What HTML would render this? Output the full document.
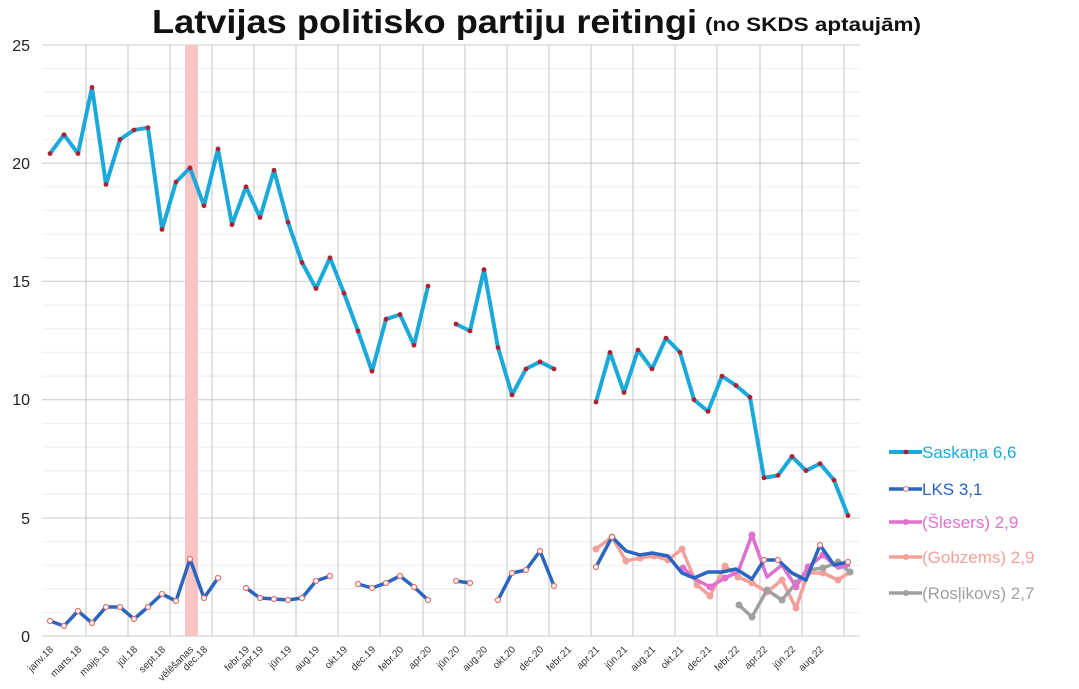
<!DOCTYPE html>
<html><head><meta charset="utf-8"><style>
html,body{margin:0;padding:0;background:#fff;}
svg{display:block;font-family:"Liberation Sans",sans-serif;}
</style></head><body>
<svg width="1079" height="689" viewBox="0 0 1079 689" xmlns="http://www.w3.org/2000/svg">
<rect width="1079" height="689" fill="#fff"/>
<text x="152" y="33" font-size="33" font-weight="bold" fill="#111" textLength="545" lengthAdjust="spacingAndGlyphs">Latvijas politisko partiju reitingi</text>
<text x="705" y="31" font-size="19" font-weight="bold" fill="#111" textLength="216" lengthAdjust="spacingAndGlyphs">(no SKDS aptaujām)</text>
<g stroke="#eeeeee" stroke-width="1">
<line x1="42" x2="860" y1="68.6" y2="68.6"/><line x1="42" x2="860" y1="92.3" y2="92.3"/><line x1="42" x2="860" y1="115.9" y2="115.9"/><line x1="42" x2="860" y1="139.6" y2="139.6"/>
<line x1="42" x2="860" y1="186.9" y2="186.9"/><line x1="42" x2="860" y1="210.5" y2="210.5"/><line x1="42" x2="860" y1="234.2" y2="234.2"/><line x1="42" x2="860" y1="257.8" y2="257.8"/>
<line x1="42" x2="860" y1="305.1" y2="305.1"/><line x1="42" x2="860" y1="328.8" y2="328.8"/><line x1="42" x2="860" y1="352.4" y2="352.4"/><line x1="42" x2="860" y1="376.1" y2="376.1"/>
<line x1="42" x2="860" y1="423.4" y2="423.4"/><line x1="42" x2="860" y1="447" y2="447"/><line x1="42" x2="860" y1="470.7" y2="470.7"/><line x1="42" x2="860" y1="494.3" y2="494.3"/>
<line x1="42" x2="860" y1="541.6" y2="541.6"/><line x1="42" x2="860" y1="565.3" y2="565.3"/><line x1="42" x2="860" y1="588.9" y2="588.9"/><line x1="42" x2="860" y1="612.6" y2="612.6"/>
</g>
<g stroke="#d6d6d6" stroke-width="1.3">
<line x1="42" x2="860" y1="45" y2="45"/><line x1="42" x2="860" y1="163.2" y2="163.2"/><line x1="42" x2="860" y1="281.4" y2="281.4"/><line x1="42" x2="860" y1="399.7" y2="399.7"/><line x1="42" x2="860" y1="518" y2="518"/><line x1="42" x2="860" y1="636" y2="636"/>
</g>
<g stroke="#c4c4c4" stroke-width="1">
<line x1="86" x2="86" y1="45" y2="636"/><line x1="128" x2="128" y1="45" y2="636"/><line x1="170" x2="170" y1="45" y2="636"/><line x1="212" x2="212" y1="45" y2="636"/><line x1="254" x2="254" y1="45" y2="636"/><line x1="296" x2="296" y1="45" y2="636"/><line x1="338" x2="338" y1="45" y2="636"/><line x1="380" x2="380" y1="45" y2="636"/><line x1="423" x2="423" y1="45" y2="636"/><line x1="465" x2="465" y1="45" y2="636"/><line x1="507" x2="507" y1="45" y2="636"/><line x1="549" x2="549" y1="45" y2="636"/><line x1="591" x2="591" y1="45" y2="636"/><line x1="633" x2="633" y1="45" y2="636"/><line x1="675" x2="675" y1="45" y2="636"/><line x1="717" x2="717" y1="45" y2="636"/><line x1="760" x2="760" y1="45" y2="636"/><line x1="802" x2="802" y1="45" y2="636"/><line x1="844" x2="844" y1="45" y2="636"/>
</g>
<rect x="185" y="45" width="13" height="591" fill="#f9c4c4"/>
<g font-size="16" fill="#222" text-anchor="end">
<text x="30" y="51">25</text><text x="30" y="169">20</text><text x="30" y="287">15</text><text x="30" y="405">10</text><text x="30" y="524">5</text><text x="30" y="642">0</text>
</g>
<g font-size="10" fill="#333" text-anchor="end">
<text transform="translate(54,650) rotate(-45)">janv.18</text>
<text transform="translate(82,650) rotate(-45)">marts.18</text>
<text transform="translate(110,650) rotate(-45)">maijs.18</text>
<text transform="translate(138,650) rotate(-45)">jūl.18</text>
<text transform="translate(166,650) rotate(-45)">sept.18</text>
<text transform="translate(194,650) rotate(-45)">vēlēšanas</text>
<text transform="translate(208,650) rotate(-45)">dec.18</text>
<text transform="translate(250,650) rotate(-45)">febr.19</text>
<text transform="translate(264,650) rotate(-45)">apr.19</text>
<text transform="translate(292,650) rotate(-45)">jūn.19</text>
<text transform="translate(320,650) rotate(-45)">aug.19</text>
<text transform="translate(348,650) rotate(-45)">okt.19</text>
<text transform="translate(376,650) rotate(-45)">dec.19</text>
<text transform="translate(404,650) rotate(-45)">febr.20</text>
<text transform="translate(432,650) rotate(-45)">apr.20</text>
<text transform="translate(460,650) rotate(-45)">jūn.20</text>
<text transform="translate(488,650) rotate(-45)">aug.20</text>
<text transform="translate(516,650) rotate(-45)">okt.20</text>
<text transform="translate(544,650) rotate(-45)">dec.20</text>
<text transform="translate(572,650) rotate(-45)">febr.21</text>
<text transform="translate(600,650) rotate(-45)">apr.21</text>
<text transform="translate(628,650) rotate(-45)">jūn.21</text>
<text transform="translate(656,650) rotate(-45)">aug.21</text>
<text transform="translate(684,650) rotate(-45)">okt.21</text>
<text transform="translate(712,650) rotate(-45)">dec.21</text>
<text transform="translate(740,650) rotate(-45)">febr.22</text>
<text transform="translate(768,650) rotate(-45)">apr.22</text>
<text transform="translate(796,650) rotate(-45)">jūn.22</text>
<text transform="translate(824,650) rotate(-45)">aug.22</text>
</g>
<!-- Gobzems -->
<polyline points="596,549 612,537 626,561 640,558 654,556 668,560 682,549 697,585 710,596 725,566 738,577 752,583 767,592 782,580 796,608 808,573 823,573 838,580 850,572" stroke="#f2a19a" stroke-width="3.5" fill="none" stroke-linejoin="round"/>
<g fill="#f2a19a"><circle cx="596" cy="549" r="3.5"/><circle cx="612" cy="537" r="3.5"/><circle cx="626" cy="561" r="3.5"/><circle cx="640" cy="558" r="3.5"/><circle cx="654" cy="556" r="3.5"/><circle cx="668" cy="560" r="3.5"/><circle cx="682" cy="549" r="3.5"/><circle cx="697" cy="585" r="3.5"/><circle cx="710" cy="596" r="3.5"/><circle cx="725" cy="566" r="3.5"/><circle cx="738" cy="577" r="3.5"/><circle cx="752" cy="583" r="3.5"/><circle cx="767" cy="592" r="3.5"/><circle cx="782" cy="580" r="3.5"/><circle cx="796" cy="608" r="3.5"/><circle cx="808" cy="573" r="3.5"/><circle cx="823" cy="573" r="3.5"/><circle cx="838" cy="580" r="3.5"/><circle cx="850" cy="572" r="3.5"/></g>
<!-- Roslikovs -->
<polyline points="739,605 752,617 767,590 782,600 796,583 808,570 823,568 838,562 850,572" stroke="#a0a0a0" stroke-width="3.5" fill="none"/>
<g fill="#a0a0a0"><circle cx="739" cy="605" r="3.5"/><circle cx="752" cy="617" r="3.5"/><circle cx="767" cy="590" r="3.5"/><circle cx="782" cy="600" r="3.5"/><circle cx="796" cy="583" r="3.5"/><circle cx="808" cy="570" r="3.5"/><circle cx="823" cy="568" r="3.5"/><circle cx="838" cy="562" r="3.5"/><circle cx="850" cy="572" r="3.5"/></g>
<!-- Slesers -->
<polyline points="683,568 697,580 710,587 725,578 738,572 752,535 767,577 782,565 796,587 808,567 823,555 838,568 850,565" stroke="#e070d0" stroke-width="3.5" fill="none" stroke-linejoin="round"/>
<g fill="#e070d0"><circle cx="683" cy="568" r="3.5"/><circle cx="710" cy="587" r="3.5"/><circle cx="725" cy="578" r="3.5"/><circle cx="752" cy="535" r="3.5"/><circle cx="796" cy="587" r="3.5"/><circle cx="808" cy="567" r="3.5"/><circle cx="823" cy="555" r="3.5"/></g>
<!-- LKS -->
<g stroke="#2a65c0" stroke-width="3.5" fill="none" stroke-linejoin="round">
<polyline points="50,621 64,626 78,611 92,623 106,607 120,607 134,619 148,607 162,594 176,601 190,559 204,598 218,578"/>
<polyline points="246,588 260,598 274,599 288,600 302,598 316,581 330,576"/>
<polyline points="358,584 372,588 386,583 400,576 414,587 428,600"/>
<polyline points="456,581 470,583"/>
<polyline points="498,600 512,573 526,570 540,551 554,586"/>
<polyline points="596,567 612,537 626,551 640,555 652,553 668,556 682,573 694,578 708,572 722,572 736,569 752,579 764,560 778,560 792,573 806,580 820,545 834,565 848,562"/>
</g>
<g fill="#fff" stroke="#e07070" stroke-width="1.2">
<circle cx="50" cy="621" r="2.5"/><circle cx="64" cy="626" r="2.5"/><circle cx="78" cy="611" r="2.5"/><circle cx="92" cy="623" r="2.5"/><circle cx="106" cy="607" r="2.5"/><circle cx="120" cy="607" r="2.5"/><circle cx="134" cy="619" r="2.5"/><circle cx="148" cy="607" r="2.5"/><circle cx="162" cy="594" r="2.5"/><circle cx="176" cy="601" r="2.5"/><circle cx="190" cy="559" r="2.5"/><circle cx="204" cy="598" r="2.5"/><circle cx="218" cy="578" r="2.5"/>
<circle cx="246" cy="588" r="2.5"/><circle cx="260" cy="598" r="2.5"/><circle cx="274" cy="599" r="2.5"/><circle cx="288" cy="600" r="2.5"/><circle cx="302" cy="598" r="2.5"/><circle cx="316" cy="581" r="2.5"/><circle cx="330" cy="576" r="2.5"/>
<circle cx="358" cy="584" r="2.5"/><circle cx="372" cy="588" r="2.5"/><circle cx="386" cy="583" r="2.5"/><circle cx="400" cy="576" r="2.5"/><circle cx="414" cy="587" r="2.5"/><circle cx="428" cy="600" r="2.5"/>
<circle cx="456" cy="581" r="2.5"/><circle cx="470" cy="583" r="2.5"/>
<circle cx="498" cy="600" r="2.5"/><circle cx="512" cy="573" r="2.5"/><circle cx="526" cy="570" r="2.5"/><circle cx="540" cy="551" r="2.5"/><circle cx="554" cy="586" r="2.5"/>
<circle cx="596" cy="567" r="2.5"/><circle cx="612" cy="537" r="2.5"/><circle cx="764" cy="560" r="2.5"/><circle cx="778" cy="560" r="2.5"/><circle cx="820" cy="545" r="2.5"/><circle cx="848" cy="562" r="2.5"/>
</g>
<!-- Saskana -->
<g stroke="#1ba9dc" stroke-width="4" fill="none" stroke-linejoin="round">
<polyline points="50,153.6 64,134.7 78,153.6 92,87.4 106,184.4 120,139.5 134,130 148,127.7 162,229.4 176,182 190,167.9 204,205.7 218,148.9 232,224.6 246,186.8 260,217.5 274,170.3 288,222.3 302,262.5 316,288.5 330,257.8 344,293.2 358,331 372,371.2 386,319.2 400,314.5 414,345.2 428,286.1"/>
<polyline points="456,324 470,331 484,269.6 498,347.6 512,394.9 526,368.9 540,361.8 554,368.9"/>
<polyline points="596,402 610,352.4 624,392.5 638,350 652,368.9 666,338.1 680,352.4 694,399.7 708,411.4 722,376.1 736,385.5 750,397.3 764,477.8 778,475.4 792,456.5 806,470.7 820,463.6 834,480.1 848,515.6"/>
</g>
<g fill="#b02030">
<circle cx="50" cy="153.6" r="2.4"/><circle cx="64" cy="134.7" r="2.4"/><circle cx="78" cy="153.6" r="2.4"/><circle cx="92" cy="87.4" r="2.4"/><circle cx="106" cy="184.4" r="2.4"/><circle cx="120" cy="139.5" r="2.4"/><circle cx="134" cy="130" r="2.4"/><circle cx="148" cy="127.7" r="2.4"/><circle cx="162" cy="229.4" r="2.4"/><circle cx="176" cy="182" r="2.4"/><circle cx="190" cy="167.9" r="2.4"/><circle cx="204" cy="205.7" r="2.4"/><circle cx="218" cy="148.9" r="2.4"/><circle cx="232" cy="224.6" r="2.4"/><circle cx="246" cy="186.8" r="2.4"/><circle cx="260" cy="217.5" r="2.4"/><circle cx="274" cy="170.3" r="2.4"/><circle cx="288" cy="222.3" r="2.4"/><circle cx="302" cy="262.5" r="2.4"/><circle cx="316" cy="288.5" r="2.4"/><circle cx="330" cy="257.8" r="2.4"/><circle cx="344" cy="293.2" r="2.4"/><circle cx="358" cy="331" r="2.4"/><circle cx="372" cy="371.2" r="2.4"/><circle cx="386" cy="319.2" r="2.4"/><circle cx="400" cy="314.5" r="2.4"/><circle cx="414" cy="345.2" r="2.4"/><circle cx="428" cy="286.1" r="2.4"/>
<circle cx="456" cy="324" r="2.4"/><circle cx="470" cy="331" r="2.4"/><circle cx="484" cy="269.6" r="2.4"/><circle cx="498" cy="347.6" r="2.4"/><circle cx="512" cy="394.9" r="2.4"/><circle cx="526" cy="368.9" r="2.4"/><circle cx="540" cy="361.8" r="2.4"/><circle cx="554" cy="368.9" r="2.4"/>
<circle cx="596" cy="402" r="2.4"/><circle cx="610" cy="352.4" r="2.4"/><circle cx="624" cy="392.5" r="2.4"/><circle cx="638" cy="350" r="2.4"/><circle cx="652" cy="368.9" r="2.4"/><circle cx="666" cy="338.1" r="2.4"/><circle cx="680" cy="352.4" r="2.4"/><circle cx="694" cy="399.7" r="2.4"/><circle cx="708" cy="411.4" r="2.4"/><circle cx="722" cy="376.1" r="2.4"/><circle cx="736" cy="385.5" r="2.4"/><circle cx="750" cy="397.3" r="2.4"/><circle cx="764" cy="477.8" r="2.4"/><circle cx="778" cy="475.4" r="2.4"/><circle cx="792" cy="456.5" r="2.4"/><circle cx="806" cy="470.7" r="2.4"/><circle cx="820" cy="463.6" r="2.4"/><circle cx="834" cy="480.1" r="2.4"/><circle cx="848" cy="515.6" r="2.4"/>
</g>
<!-- Legend -->
<g font-size="17">
<line x1="889" x2="922" y1="452" y2="452" stroke="#1ba9dc" stroke-width="4"/><circle cx="906" cy="452" r="2.4" fill="#b02030"/>
<text x="922" y="458" fill="#1ba9dc">Saskaņa 6,6</text>
<line x1="889" x2="922" y1="489" y2="489" stroke="#2a65c0" stroke-width="3.5"/><circle cx="906" cy="489" r="2.4" fill="#fff" stroke="#e07070"/>
<text x="922" y="495" fill="#2a65c0">LKS 3,1</text>
<line x1="889" x2="922" y1="522" y2="522" stroke="#e070d0" stroke-width="3.5"/><circle cx="906" cy="522" r="3" fill="#e070d0"/>
<text x="922" y="528" fill="#e070d0">(Šlesers) 2,9</text>
<line x1="889" x2="922" y1="557" y2="557" stroke="#f2a19a" stroke-width="3.5"/><circle cx="906" cy="557" r="3" fill="#f2a19a"/>
<text x="922" y="563" fill="#f2a19a">(Gobzems) 2,9</text>
<line x1="889" x2="922" y1="593" y2="593" stroke="#a0a0a0" stroke-width="3.5"/><circle cx="906" cy="593" r="3" fill="#a0a0a0"/>
<text x="922" y="599" fill="#a0a0a0">(Rosļikovs) 2,7</text>
</g>
</svg>
</body></html>
